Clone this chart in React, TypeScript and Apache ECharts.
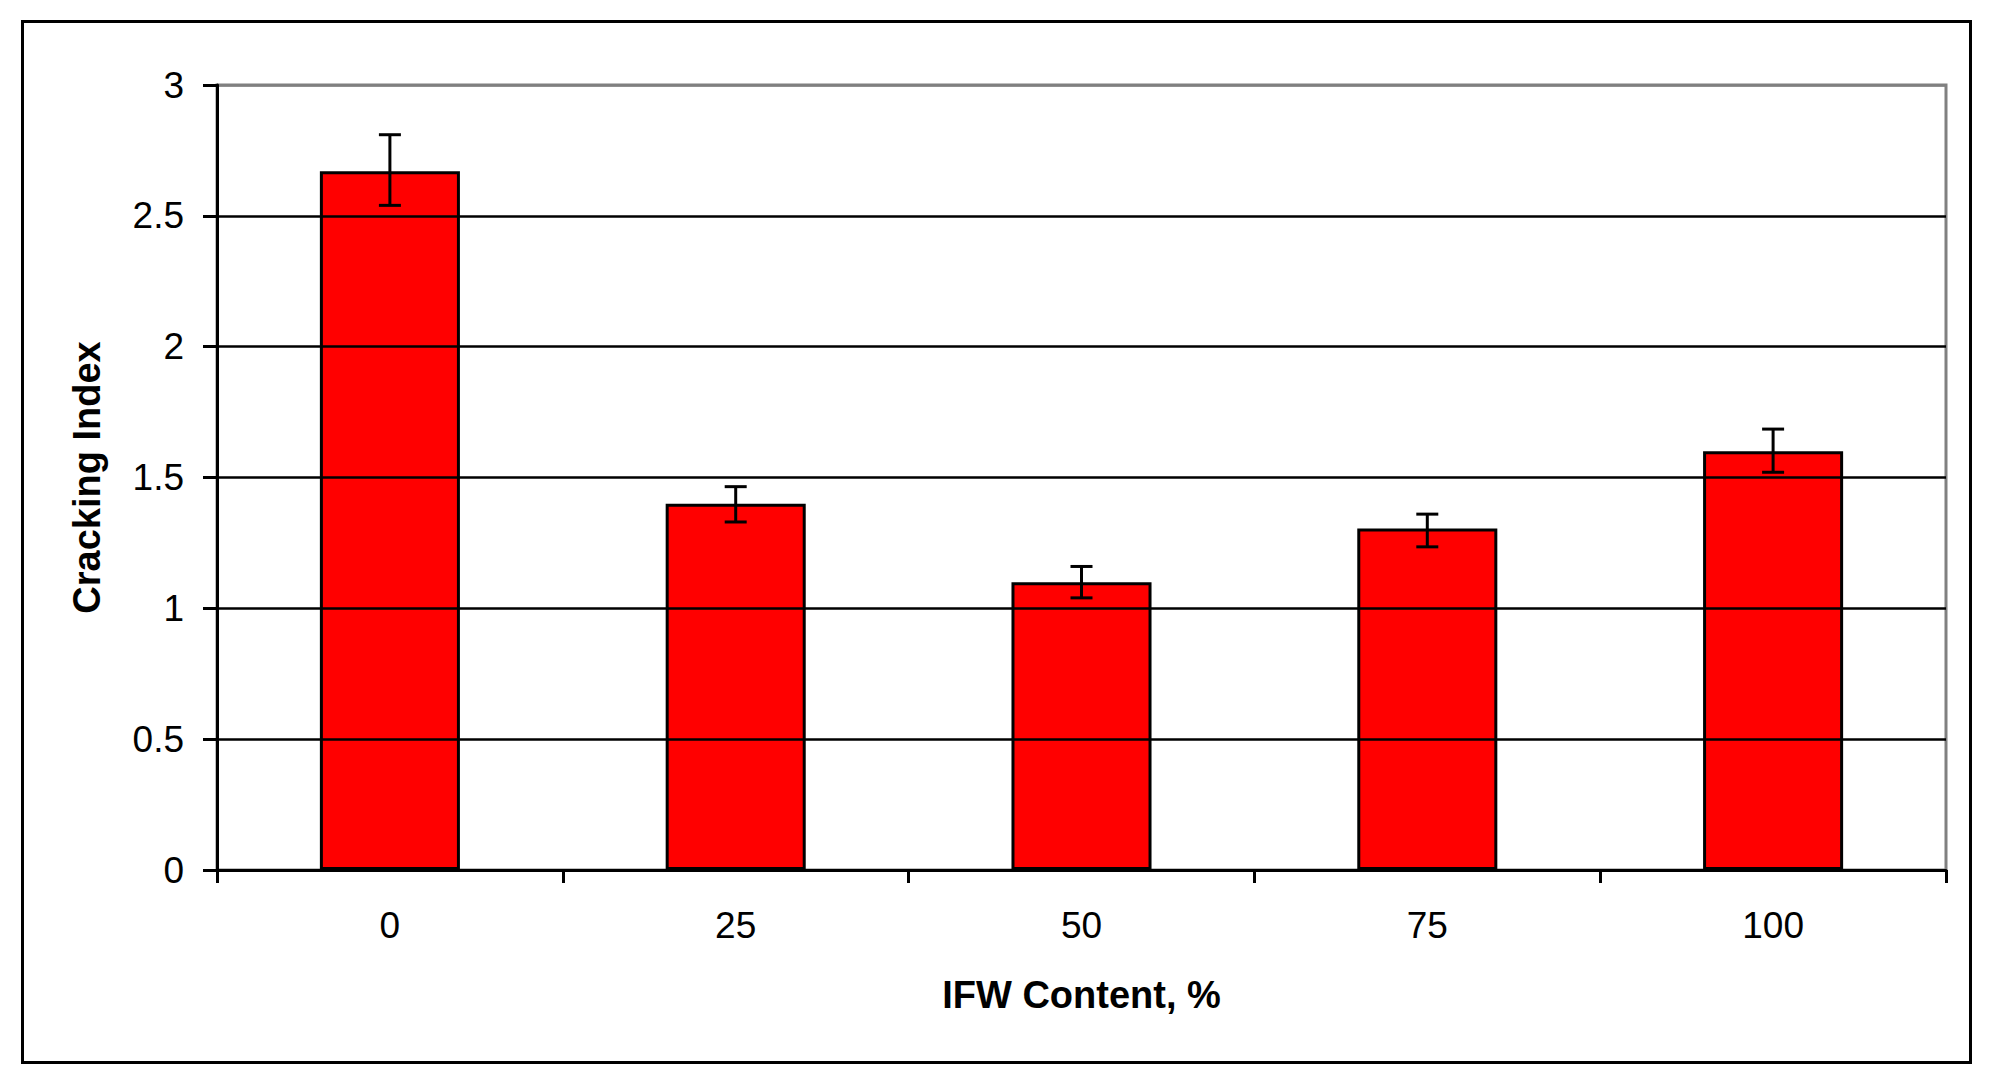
import React, { useEffect, useRef } from "react";
import * as echarts from "echarts";

const categories = ["0", "25", "50", "75", "100"];
const crackingIndex = [2.67, 1.4, 1.1, 1.305, 1.6];
const errorLow = [2.54, 1.33, 1.04, 1.235, 1.52];
const errorHigh = [2.81, 1.465, 1.16, 1.36, 1.685];

const FONT = "'Liberation Sans', Arial, sans-serif";

export default function App() {
  const ref = useRef<HTMLDivElement>(null);
  useEffect(() => {
    if (!ref.current) return;
    const chart = echarts.init(ref.current, null, { renderer: "svg" });
    const errData = categories.map((_, i) => [i, errorLow[i], errorHigh[i]]);
    chart.setOption({
      animation: false,
      backgroundColor: "#ffffff",
      grid: {
        left: 217,
        top: 85,
        width: 1729,
        height: 785,
        show: true,
        borderColor: "#808080",
        borderWidth: 3,
        backgroundColor: "transparent",
      },
      graphic: [
        {
          type: "rect",
          shape: { x: 22.5, y: 21.5, width: 1948, height: 1041 },
          style: { fill: "none", stroke: "#000", lineWidth: 3 },
          z: -10,
        },
      ],
      xAxis: {
        type: "category",
        data: categories,
        boundaryGap: true,
        name: "IFW Content, %",
        nameLocation: "middle",
        nameGap: 106,
        nameTextStyle: { fontFamily: FONT, fontSize: 38, fontWeight: "bold", color: "#000" },
        axisLine: { lineStyle: { color: "#000", width: 3 } },
        axisTick: { show: true, length: 13, lineStyle: { color: "#000", width: 3 }, interval: 0 },
        axisLabel: { fontFamily: FONT, fontSize: 37, color: "#000", margin: 37, interval: 0 },
        splitLine: { show: false },
        z: 5,
      },
      yAxis: {
        type: "value",
        min: 0,
        max: 3,
        interval: 0.5,
        name: "Cracking Index",
        nameLocation: "middle",
        nameGap: 111,
        nameTextStyle: { fontFamily: FONT, fontSize: 38, fontWeight: "bold", color: "#000" },
        axisLine: { show: true, lineStyle: { color: "#000", width: 3 } },
        axisTick: { show: true, length: 14, lineStyle: { color: "#000", width: 3 } },
        axisLabel: { fontFamily: FONT, fontSize: 37, color: "#000", margin: 33 },
        splitLine: {
          show: true,
          lineStyle: {
            color: ["#000", "#000", "#000", "#000", "#000", "#000", "#808080"],
            width: 2.5,
          },
        },
        z: 5,
      },
      series: [
        {
          type: "bar",
          data: crackingIndex,
          barWidth: "40.5%",
          itemStyle: { color: "#ff0000", borderColor: "#000", borderWidth: 3 },
          z: 3,
        },
        {
          type: "custom",
          data: errData,
          z: 4,
          renderItem: (params: any, api: any) => {
            const i = api.value(0);
            const lo = api.coord([i, api.value(1)]);
            const hi = api.coord([i, api.value(2)]);
            const hw = 11;
            const style = { stroke: "#000", lineWidth: 3 };
            return {
              type: "group",
              children: [
                { type: "line", shape: { x1: hi[0], y1: hi[1], x2: lo[0], y2: lo[1] }, style },
                { type: "line", shape: { x1: hi[0] - hw, y1: hi[1], x2: hi[0] + hw, y2: hi[1] }, style },
                { type: "line", shape: { x1: lo[0] - hw, y1: lo[1], x2: lo[0] + hw, y2: lo[1] }, style },
              ],
            };
          },
        },
      ],
    });
    return () => chart.dispose();
  }, []);
  return (
    <div
      ref={ref}
      style={{ position: "fixed", left: 0, top: 0, width: 2000, height: 1087, background: "#fff" }}
    />
  );
}
